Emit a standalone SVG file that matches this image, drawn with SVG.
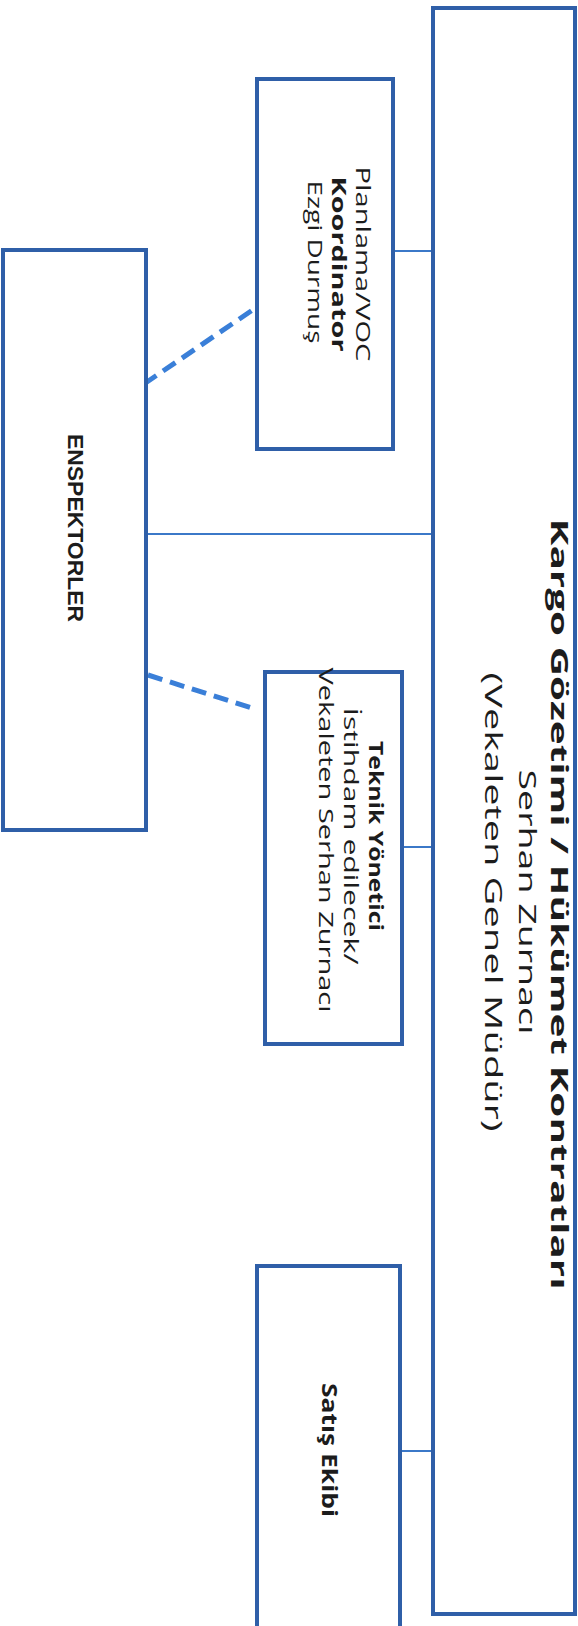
<svg xmlns="http://www.w3.org/2000/svg" width="578" height="1626" viewBox="0 0 578 1626">
<style>
.box{fill:#ffffff;stroke:#2f5fa8;stroke-width:4}
.con{stroke:#3b78c8;stroke-width:2;fill:none}
.dash{stroke:#3a7fd8;stroke-width:5;stroke-dasharray:15 8;fill:none}
.t{font-family:"Open Sans","Noto Sans","Liberation Sans",sans-serif;fill:#1c1c1c;text-anchor:middle}
.b{font-weight:bold}
.a{font-family:"Liberation Sans",Arial,sans-serif;font-weight:bold;fill:#1c1c1c;text-anchor:middle}
</style>
<rect width="578" height="1626" fill="#ffffff"/>
<g id="connectors">
<line class="con" x1="393" y1="251" x2="433" y2="251"/>
<line class="con" x1="146" y1="534" x2="433" y2="534"/>
<line class="con" x1="402" y1="847" x2="433" y2="847"/>
<line class="con" x1="400" y1="1451" x2="433" y2="1451"/>
<line class="dash" x1="144" y1="384" x2="254" y2="309"/>
<line class="dash" x1="148" y1="675" x2="255" y2="709"/>
</g>
<g id="kargo">
<rect class="box" x="433" y="8" width="142" height="1606"/>
<text class="t b" font-size="24" transform="translate(551,904) rotate(90)" textLength="771" lengthAdjust="spacingAndGlyphs">Kargo Gözetimi / Hükümet Kontratları</text>
<text class="t" font-size="24" transform="translate(519,902) rotate(90)" textLength="265" lengthAdjust="spacingAndGlyphs">Serhan Zurnacı</text>
<text class="t" font-size="24" transform="translate(485,902) rotate(90)" textLength="459" lengthAdjust="spacingAndGlyphs">(Vekaleten Genel Müdür)</text>
</g>
<g id="planlama">
<rect class="box" x="257" y="79" width="136" height="370"/>
<text class="t" font-size="20" transform="translate(356,264) rotate(90)" textLength="195" lengthAdjust="spacingAndGlyphs">Planlama/VOC</text>
<text class="t b" font-size="20" transform="translate(332,264) rotate(90)" textLength="175" lengthAdjust="spacingAndGlyphs">Koordinator</text>
<text class="t" font-size="20" transform="translate(308,262) rotate(90)" textLength="163" lengthAdjust="spacingAndGlyphs">Ezgi Durmuş</text>
</g>
<g id="enspektorler">
<rect class="box" x="3" y="250" width="143" height="580"/>
<text class="a" font-size="22" transform="translate(68,528) rotate(90)" textLength="188" lengthAdjust="spacingAndGlyphs">ENSPEKTORLER</text>
</g>
<g id="teknik">
<rect class="box" x="265" y="672" width="137" height="372"/>
<text class="t b" font-size="20" transform="translate(369,836) rotate(90)" textLength="190" lengthAdjust="spacingAndGlyphs">Teknik Yönetici</text>
<text class="t" font-size="20" transform="translate(344,836) rotate(90)" textLength="257" lengthAdjust="spacingAndGlyphs">İstihdam edilecek/</text>
<text class="t" font-size="20" transform="translate(319,840) rotate(90)" textLength="345" lengthAdjust="spacingAndGlyphs">Vekaleten Serhan Zurnacı</text>
</g>
<g id="satis">
<rect class="box" x="257" y="1266" width="143" height="420"/>
<text class="t b" font-size="22" transform="translate(322,1450) rotate(90)" textLength="134" lengthAdjust="spacingAndGlyphs">Satış Ekibi</text>
</g>
</svg>
